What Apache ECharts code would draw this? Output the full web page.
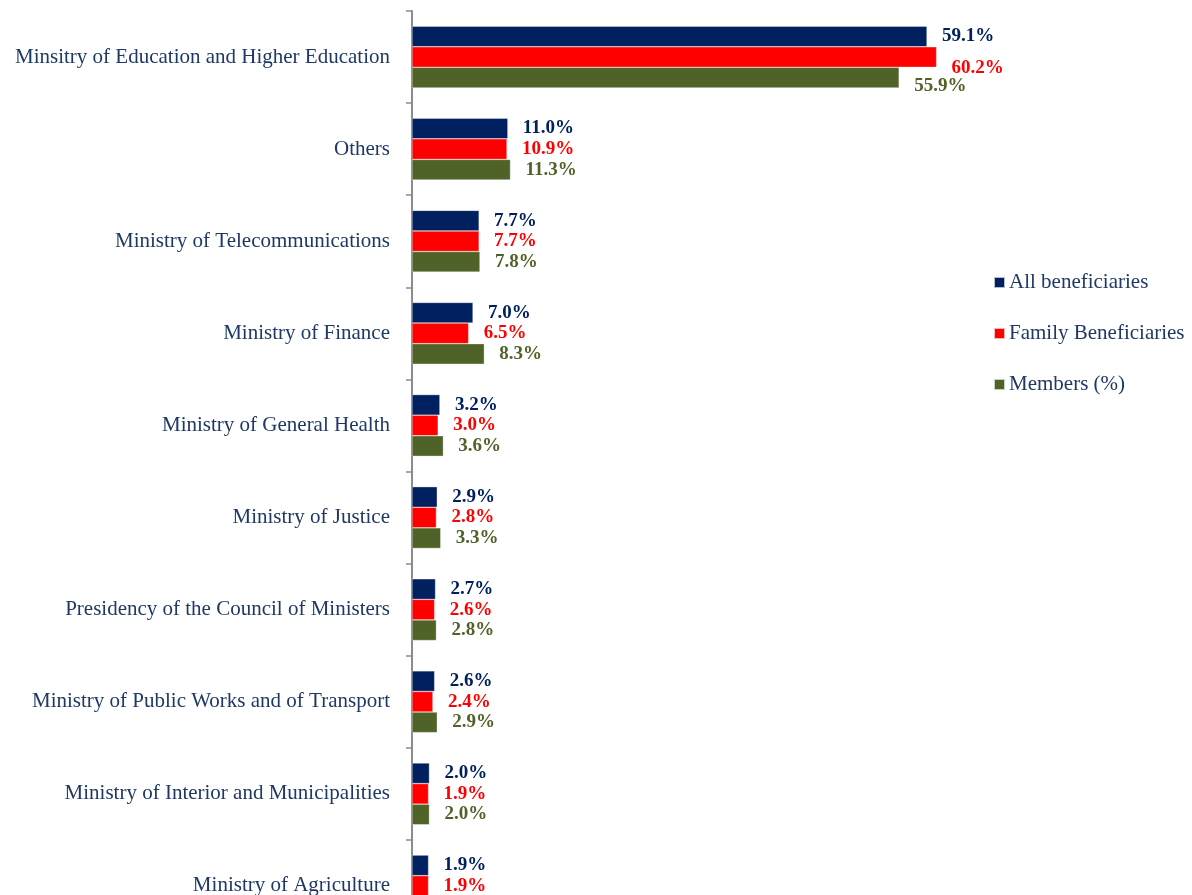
<!DOCTYPE html>
<html>
<head>
<meta charset="utf-8">
<script src="https://cdn.jsdelivr.net/npm/echarts@6/dist/echarts.min.js"></script>
<style>
  html, body { margin: 0; padding: 0; background: #fff; }
  #main { width: 1192px; height: 895px; }
</style>
</head>
<body>
<div id="main"></div>
<script>
var categories = [
    'Minsitry of Education and Higher Education',
    'Others',
    'Ministry of Telecommunications',
    'Ministry of Finance',
    'Ministry of General Health',
    'Ministry of Justice',
    'Presidency of the Council of Ministers',
    'Ministry of Public Works and of Transport',
    'Ministry of Interior and Municipalities',
    'Ministry of Agriculture'
];
var allBeneficiaries = [59.1, 11.0, 7.7, 7.0, 3.2, 2.9, 2.7, 2.6, 2.0, 1.9];
var familyBeneficiaries = [60.2, 10.9, 7.7, 6.5, 3.0, 2.8, 2.6, 2.4, 1.9, 1.9];
var members = [55.9, 11.3, 7.8, 8.3, 3.6, 3.3, 2.8, 2.9, 2.0, 1.9];

var serif = "'Liberation Serif', 'Times New Roman', serif";
var navy = '#002060';
var red = '#FF0000';
var olive = '#4F6228';
var textNavy = '#1F3864';

var chartDom = document.getElementById('main');
var myChart = echarts.init(chartDom);
var option;

// first category labels are nudged down in the original to avoid overlap
function withOffset(values, firstOffset) {
    return values.map(function (v, i) {
        if (i === 0 && firstOffset) {
            return { value: v, label: { offset: [0, firstOffset] } };
        }
        return v;
    });
}

function makeSeries(name, values, color, firstOffset) {
    return {
        name: name,
        type: 'bar',
        barGap: '0%',
        barCategoryGap: '33%',
        data: withOffset(values, firstOffset),
        itemStyle: {
            color: color,
            borderColor: 'rgba(255,255,255,0.7)',
            borderWidth: 0.5
        },
        label: {
            show: true,
            position: 'right',
            distance: 15,
            color: color,
            fontFamily: serif,
            fontWeight: 'bold',
            fontSize: 19,
            formatter: function (p) { return p.value.toFixed(1) + '%'; }
        }
    };
}

option = {
    animation: false,
    backgroundColor: '#ffffff',
    textStyle: { fontFamily: serif },
    legend: {
        orient: 'vertical',
        left: 988,
        top: 267,
        itemWidth: 11,
        itemHeight: 11,
        itemGap: 30,
        icon: 'rect',
        textStyle: {
            fontFamily: serif,
            fontSize: 21,
            color: textNavy,
            lineHeight: 20,
            padding: [0, 0, 0, -1]
        },
        data: ['All beneficiaries', 'Family Beneficiaries', 'Members (%)']
    },
    grid: {
        left: 412,
        top: 11,
        width: 610,
        height: 921,
        outerBoundsMode: 'none'
    },
    xAxis: {
        type: 'value',
        min: 0,
        max: 70,
        show: false
    },
    yAxis: {
        type: 'category',
        inverse: true,
        data: categories,
        axisLine: { show: true, lineStyle: { color: '#8c8c8c', width: 2 } },
        axisTick: { show: true, length: 6, lineStyle: { color: '#8c8c8c', width: 1.5 } },
        axisLabel: {
            margin: 22,
            fontFamily: serif,
            fontSize: 21,
            color: textNavy
        }
    },
    series: [
        makeSeries('All beneficiaries', allBeneficiaries, navy, 0),
        makeSeries('Family Beneficiaries', familyBeneficiaries, red, 11),
        makeSeries('Members (%)', members, olive, 8)
    ]
};

option && myChart.setOption(option);
</script>
</body>
</html>
